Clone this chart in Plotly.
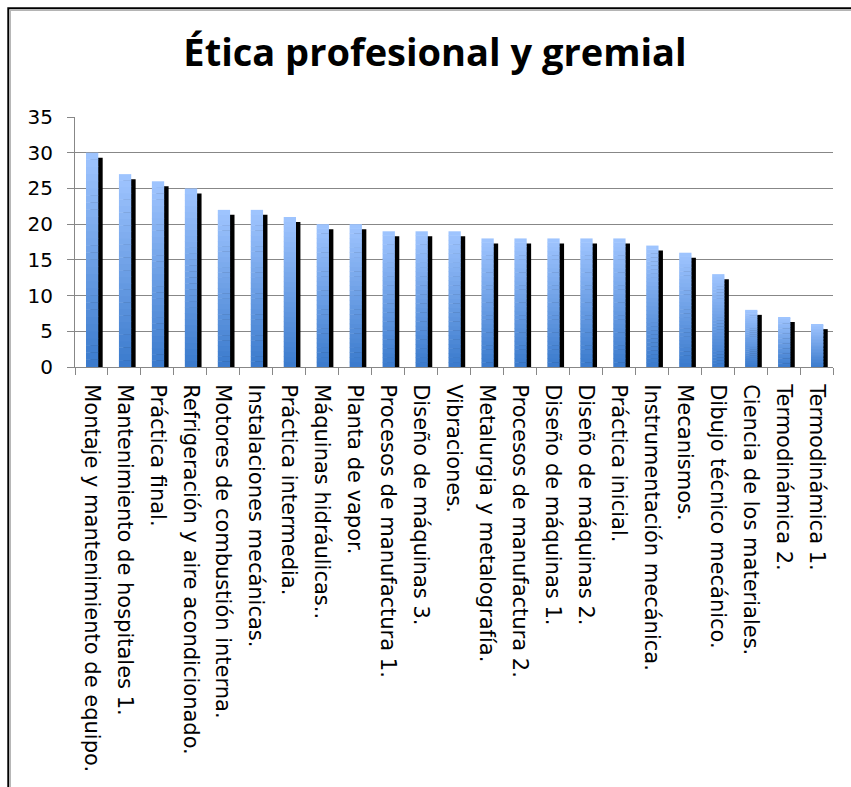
import plotly.graph_objects as go

# Course names and counts
categories = [
    "Montaje y mantenimiento de equipo.",
    "Mantenimiento de hospitales 1.",
    "Práctica final.",
    "Refrigeración y aire acondicionado.",
    "Motores de combustión interna.",
    "Instalaciones mecánicas.",
    "Práctica intermedia.",
    "Máquinas hidráulicas..",
    "Planta de vapor.",
    "Procesos de manufactura 1.",
    "Diseño de máquinas 3.",
    "Vibraciones.",
    "Metalurgia y metalografía.",
    "Procesos de manufactura 2.",
    "Diseño de máquinas 1.",
    "Diseño de máquinas 2.",
    "Práctica inicial.",
    "Instrumentación mecánica.",
    "Mecanismos.",
    "Dibujo técnico mecánico.",
    "Ciencia de los materiales.",
    "Termodinámica 2.",
    "Termodinámica 1.",
]
values = [30, 27, 26, 25, 22, 22, 21, 20, 20, 19, 19, 19, 18, 18, 18, 18, 18, 17, 16, 13, 8, 7, 6]
y_ticks = [0, 5, 10, 15, 20, 25, 30, 35]

# Layout geometry (pixels)
W, H = 851, 787
ML, MR, MT, MB = 75, 18, 117, 420
PW, PH = W - ML - MR, H - MT - MB

def px_x(p):
    return (p - ML) / PW

def px_y(p):
    return (H - MB - p) / PH

BAR_W = 0.373
BAR_OFF = -0.167
SHADOW_SHIFT = 0.134
SHADOW_DROP = 0.7

TOP_RGB = (160, 197, 255)
BOT_RGB = (58, 122, 204)
N_SEG = 30

fig = go.Figure()

# black drop shadow behind each column
fig.add_trace(go.Bar(
    x=categories,
    y=[v - SHADOW_DROP for v in values],
    width=BAR_W, offset=BAR_OFF + SHADOW_SHIFT,
    marker=dict(color="#000000", line=dict(width=0)),
    hoverinfo="skip", showlegend=False,
))

# vertical gradient fill built from stacked slices of each column
for k in range(N_SEG):
    t = (k + 0.5) / N_SEG
    rgb = tuple(round(b + (tp - b) * t) for b, tp in zip(BOT_RGB, TOP_RGB))
    base = [v * k / N_SEG for v in values]
    top = [v * (k + 1) / N_SEG for v in values]
    overlap = 0.06 if k < N_SEG - 1 else 0.0
    fig.add_trace(go.Bar(
        x=categories,
        y=[tp - b + overlap for tp, b in zip(top, base)],
        base=base,
        width=BAR_W, offset=BAR_OFF,
        marker=dict(color="rgb(%d,%d,%d)" % rgb, line=dict(width=0)),
        hoverinfo="skip", showlegend=False,
    ))

grid = "#878787"
fig.update_layout(
    width=W, height=H,
    margin=dict(l=ML, r=MR, t=MT, b=MB, pad=0),
    paper_bgcolor="white", plot_bgcolor="white",
    barmode="overlay",
    title=dict(
        text="<b>Ética profesional y gremial</b>",
        font=dict(family="Open Sans", size=38, color="#000000"),
        x=px_x(435), xanchor="center", xref="paper",
        y=1 - 53 / H, yanchor="middle",
    ),
    xaxis=dict(
        type="category", tickangle=90, tickson="boundaries",
        ticks="outside", ticklen=7, tickcolor=grid, tickwidth=1,
        showline=True, linecolor=grid, linewidth=1,
        showgrid=False, ticklabelstandoff=12,
        tickfont=dict(family="DejaVu Sans, Verdana, sans-serif", size=21, color="#000000"),
    ),
    yaxis=dict(
        range=[0, 35], tickvals=y_ticks,
        ticks="outside", ticklen=7, tickcolor=grid, tickwidth=1,
        showline=True, linecolor=grid, linewidth=1,
        showgrid=True, gridcolor=grid, gridwidth=1,
        zeroline=False, ticklabelstandoff=10,
        tickfont=dict(family="DejaVu Sans, Verdana, sans-serif", size=20, color="#000000"),
    ),
    shapes=[
        dict(type="rect", xref="paper", yref="paper",
             x0=px_x(8.3), x1=px_x(W + 60), y0=px_y(H + 60), y1=px_y(8.3),
             line=dict(color="#000000", width=2), fillcolor="rgba(0,0,0,0)", layer="above"),
        dict(type="rect", xref="paper", yref="paper",
             x0=px_x(10.2), x1=px_x(W + 60), y0=px_y(H + 60), y1=px_y(10.2),
             line=dict(color="#b4b4b4", width=1.5), fillcolor="rgba(0,0,0,0)", layer="above"),
    ],
)

fig.write_html("out.html")
